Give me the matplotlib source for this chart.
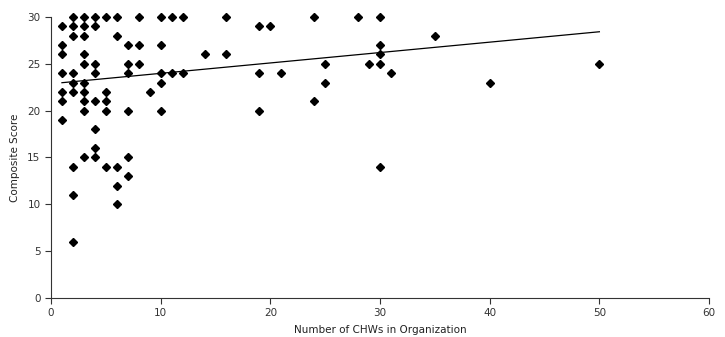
import numpy as np
import matplotlib
matplotlib.use("Agg")
import matplotlib.pyplot as plt

# Number of CHWs vs composite score
chws = [2, 3, 4, 5, 6, 8, 10, 11, 12, 16, 24, 28, 30,
        1, 2, 3, 4, 19, 20,
        2, 3, 6, 35,
        1, 7, 8, 10, 30,
        1, 3, 14, 16, 30,
        3, 4, 7, 8, 25, 29, 30, 50,
        1, 2, 4, 7, 10, 11, 12, 19, 21, 31,
        2, 3, 10, 25, 40,
        1, 2, 3, 5, 9,
        1, 3, 4, 5, 24,
        3, 5, 7, 10, 19,
        1, 4, 4, 3, 4, 7, 2, 5, 6, 30, 7, 6, 2, 6, 2]
score = [30, 30, 30, 30, 30, 30, 30, 30, 30, 30, 30, 30, 30,
         29, 29, 29, 29, 29, 29,
         28, 28, 28, 28,
         27, 27, 27, 27, 27,
         26, 26, 26, 26, 26,
         25, 25, 25, 25, 25, 25, 25, 25,
         24, 24, 24, 24, 24, 24, 24, 24, 24, 24,
         23, 23, 23, 23, 23,
         22, 22, 22, 22, 22,
         21, 21, 21, 21, 21,
         20, 20, 20, 20, 20,
         19, 18, 16, 15, 15, 15, 14, 14, 14, 14, 13, 12, 11, 10, 6]

# linear trend as shown in the original (slope, intercept)
trend_slope = 0.111
trend_intercept = 22.87

x = np.array(chws)
y = np.array(score)

fig = plt.figure(figsize=(7.25, 3.37), dpi=100)
ax = fig.add_axes([0.0703, 0.1157, 0.9077, 0.834])

ax.plot(x, y, 'D', color='black', markersize=4.5, clip_on=False, zorder=3)

xl = np.array([x.min(), x.max()])
ax.plot(xl, trend_slope * xl + trend_intercept, color='black', linewidth=0.9)

ax.set_xlim(0, 60)
ax.set_ylim(0, 30)
ax.set_xticks(range(0, 61, 10))
ax.set_yticks(range(0, 31, 5))
ax.set_xlabel('Number of CHWs in Organization', fontsize=7.5, labelpad=5, color='#222222')
ax.set_ylabel('Composite Score', fontsize=7.5, labelpad=5, color='#222222')
ax.tick_params(labelsize=7.5, length=4, width=0.8, colors='#333333')
for s in ['top', 'right']:
    ax.spines[s].set_visible(False)
for s in ['left', 'bottom']:
    ax.spines[s].set_color('#333333')
    ax.spines[s].set_linewidth(0.8)

plt.savefig('out.png', dpi=100)
